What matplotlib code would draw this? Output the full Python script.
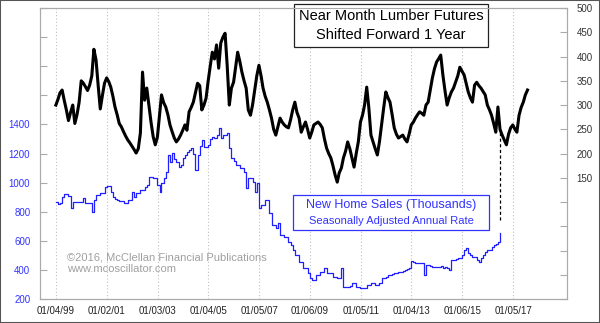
import matplotlib
matplotlib.use("Agg")
import matplotlib.pyplot as plt
import matplotlib.dates as mdates
from matplotlib.patches import Rectangle
import numpy as np
import pandas as pd

plt.rcParams['font.family'] = ['Liberation Sans', 'DejaVu Sans']

# near month lumber futures, monthly, shifted forward 1 year (starts Jan 1999)
lumber = [
    300, 312, 325, 331, 310, 290, 268, 285, 300, 262, 280, 305,
    350, 345, 338, 330, 341, 360, 415, 393, 340, 292, 320, 345,
    356, 348, 337, 318, 296, 280, 262, 255, 245, 236, 228, 222,
    215, 208, 201, 210, 242, 368, 310, 335, 300, 265, 235, 218,
    234, 280, 321, 305, 296, 280, 259, 245, 232, 224, 230, 238,
    248, 259, 248, 286, 295, 306, 325, 345, 340, 290, 300, 314,
    350, 382, 409, 395, 424, 376, 428, 440, 448, 382, 300, 335,
    347, 380, 409, 390, 368, 350, 335, 290, 279, 300, 330, 360,
    382, 360, 335, 318, 306, 290, 273, 250, 238, 255, 273, 265,
    259, 255, 253, 270, 290, 306, 285, 273, 244, 255, 265, 250,
    232, 245, 259, 262, 265, 260, 253, 230, 211, 200, 191, 175,
    156, 141, 160, 170, 191, 205, 224, 210, 191, 172, 200, 224,
    265, 280, 300, 337, 295, 238, 224, 210, 197, 224, 260, 294,
    327, 315, 306, 280, 253, 240, 232, 235, 238, 230, 224, 240,
    259, 265, 273, 280, 286, 283, 279, 300, 306, 330, 356, 375,
    389, 396, 403, 362, 330, 300, 315, 327, 335, 347, 360, 378,
    370, 362, 345, 327, 315, 306, 341, 347, 340, 335, 328, 321,
    300, 290, 279, 262, 244, 296, 250, 238, 228, 218, 240, 253,
    259, 250, 244, 279, 295, 306, 321, 331,
]

# new home sales (thousands, SAAR), monthly from Jan 1999
home_sales = [
    867, 853, 860, 901, 922, 922, 908, 825, 867, 867, 867, 867,
    867, 894, 860, 860, 860, 798, 880, 915, 915, 929, 929, 970,
    977, 977, 935, 900, 887, 880, 874, 874, 860, 860, 880, 880,
    935, 901, 929, 929, 949, 949, 970, 983, 1039, 1039, 1032, 1032,
    983, 935, 997, 1030, 1073, 1190, 1142, 1203, 1160, 1142, 1107, 1120,
    1169, 1190, 1210, 1225, 1238, 1200, 1087, 1190, 1250, 1293, 1245, 1245,
    1260, 1300, 1313, 1307, 1327, 1375, 1307, 1327, 1327, 1341, 1238, 1169,
    1150, 1121, 1121, 1100, 1100, 1073, 963, 1032, 1032, 1004, 935, 997,
    825, 846, 846, 880, 880, 791, 709, 709, 688, 722, 640, 640,
    626, 626, 590, 570, 537, 502, 502, 454, 454, 413, 413, 379,
    344, 330, 330, 365, 365, 386, 386, 413, 379, 379, 379, 351,
    351, 344, 344, 413, 282, 282, 282, 290, 310, 310, 282, 282,
    275, 275, 275, 296, 296, 310, 310, 296, 296, 310, 344, 344,
    352, 365, 365, 370, 379, 379, 386, 386, 395, 399, 405, 413,
    461, 454, 447, 447, 447, 447, 365, 434, 434, 425, 420, 420,
    420, 420, 425, 415, 420, 415, 399, 468, 468, 475, 482, 482,
    502, 537, 550, 516, 500, 489, 489, 470, 454, 480, 502, 520,
    537, 537, 560, 571, 578, 592, 654,
]

lumber_dates = pd.date_range('1999-01-01', periods=len(lumber), freq='MS')
sales_dates = pd.date_range('1999-01-01', periods=len(home_sales), freq='MS')

tick_dates = pd.to_datetime(['1999-01-04', '2001-01-02', '2003-01-03', '2005-01-04',
                             '2007-01-05', '2009-01-06', '2011-01-05', '2013-01-04',
                             '2015-01-06', '2017-01-05'])
left_ticks = np.arange(200, 2201, 200)
right_ticks = np.arange(-100, 501, 50)

fig = plt.figure(figsize=(6, 3.23), dpi=100)
ax = fig.add_axes([0.0667, 0.0743, 0.8783, 0.9007])
ax2 = ax.twinx()

ax.step(sales_dates, home_sales, where='post', color='#2020ff', linewidth=0.9)
ax2.plot(lumber_dates, lumber, color='black', linewidth=2.2)

# dashed connector at last home sales month
end_date = sales_dates[-1]
conv = lambda v: -100 + (v - 200) * 600 / 2000
ax2.plot([end_date, end_date], [conv(home_sales[-1]) + 27, lumber[len(home_sales) - 1] - 5],
         color='black', linewidth=0.9, linestyle=(0, (2.5, 2)))

ax.set_ylim(200, 2200)
ax2.set_ylim(-100, 500)
ax.set_xlim(pd.Timestamp('1998-05-18'), pd.Timestamp('2019-02-20'))

ax.set_yticks(left_ticks)
ax.set_yticklabels([str(v) if v <= 1400 else '' for v in left_ticks])
ax2.set_yticks(right_ticks)
ax2.set_yticklabels([str(v) if v >= 150 else '' for v in right_ticks])
ax.set_xticks(tick_dates)
ax.set_xticklabels([d.strftime('%m/%d/%y') for d in tick_dates])

ax.tick_params(axis='y', direction='in', length=5, color='#aaaaaa', labelcolor='#3333ff',
               labelsize=7, pad=7)
ax2.tick_params(axis='y', direction='in', length=5, color='#aaaaaa', labelcolor='#333333',
                labelsize=7, pad=7)
ax.tick_params(axis='x', length=0, labelcolor='#222222', labelsize=7, pad=5)
ax.grid(axis='x', color='#c0c0c0', linestyle=(0, (1, 2)), linewidth=0.8)
for a in (ax, ax2):
    for s in a.spines.values():
        s.set_color('#aaaaaa')
        s.set_linewidth(0.8)

ax.text(0.666, 0.94, 'Near Month Lumber Futures\nShifted Forward 1 Year', transform=ax.transAxes,
        ha='center', va='center', fontsize=10.5, linespacing=1.4, color='black', zorder=5,
        bbox=dict(boxstyle='square,pad=0.35', facecolor='white', edgecolor='#222222', linewidth=0.9))

ax.add_patch(Rectangle((0.48, 0.237), 0.372, 0.12, transform=ax.transAxes, facecolor='white',
                       edgecolor='#3333ff', linewidth=0.9, zorder=5))
ax.text(0.666, 0.323, 'New Home Sales (Thousands)', transform=ax.transAxes, ha='center',
        va='center', fontsize=9, color='#3333ff', zorder=6)
ax.text(0.666, 0.268, 'Seasonally Adjusted Annual Rate', transform=ax.transAxes, ha='center',
        va='center', fontsize=8, color='#3333ff', zorder=6)

ax.text(0.051, 0.122, '\u00a92016, McClellan Financial Publications\nwww.mcoscillator.com',
        transform=ax.transAxes, ha='left', va='center', fontsize=8, linespacing=1.15, color='#a0a0a0')

fig.patches.append(Rectangle((0, 0), 1, 1, transform=fig.transFigure, fill=False,
                             edgecolor='#555555', linewidth=1.5))

plt.savefig('out.png', dpi=100)
